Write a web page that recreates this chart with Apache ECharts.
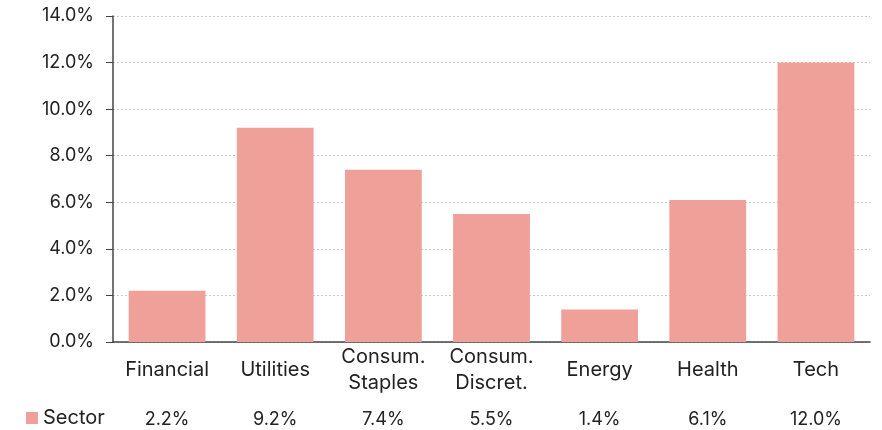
<!DOCTYPE html>
<html>
<head>
<meta charset="utf-8">
<script src="https://cdn.jsdelivr.net/npm/echarts@6/dist/echarts.min.js"></script>
<style>
  html, body { margin: 0; padding: 0; background: #fff; }
  #chart { width: 882px; height: 430px; }
</style>
</head>
<body>
<div id="chart"></div>
<script>
// 数据
const categories = ["Financial", "Utilities", "Consum.\nStaples", "Consum.\nDiscret.", "Energy", "Health", "Tech"];
const sectorValues = [2.2, 9.2, 7.4, 5.5, 1.4, 6.1, 12.0];
const seriesName = "Sector";

const tableLabels = sectorValues.map((v) => v.toFixed(1) + "%");
const font = "Inter, 'Noto Sans', sans-serif";

const myChart = echarts.init(document.querySelector("#chart"));
const option = {
  animation: false,
  textStyle: { fontFamily: font },
  legend: {
    data: [seriesName],
    left: 26,
    top: 408,
    padding: 0,
    icon: "rect",
    itemWidth: 12,
    itemHeight: 12,
    itemGap: 5,
    textStyle: { fontSize: 20, color: "#222", fontFamily: font },
  },
  grid: {
    left: 113,
    right: 12,
    top: 16,
    bottom: 88,
    containLabel: false,
  },
  xAxis: [
    {
      type: "category",
      data: categories,
      axisLine: { lineStyle: { color: "#444", width: 1.5 } },
      axisTick: { show: false },
      axisLabel: {
        fontSize: 20,
        color: "#222",
        margin: 28,
        verticalAlign: "middle",
        lineHeight: 26,
        interval: 0,
      },
    },
    {
      type: "category",
      position: "bottom",
      data: tableLabels,
      axisLine: { show: false },
      axisTick: { show: false },
      axisLabel: {
        fontSize: 18,
        color: "#222",
        margin: 78,
        verticalAlign: "middle",
        interval: 0,
      },
    },
  ],
  yAxis: {
    type: "value",
    min: 0,
    max: 14,
    interval: 2,
    axisLine: { show: true, lineStyle: { color: "#444", width: 1.5 } },
    axisTick: { show: true, length: 7, lineStyle: { color: "#444" } },
    axisLabel: {
      fontSize: 18,
      color: "#222",
      margin: 19,
      formatter: (v) => v.toFixed(1) + "%",
    },
    splitLine: { lineStyle: { color: "#c8c8c8", type: [2, 2] } },
  },
  series: [
    {
      name: seriesName,
      type: "bar",
      xAxisIndex: 0,
      data: sectorValues,
      barWidth: "71%",
      itemStyle: { color: "#EFA098" },
    },
  ],
};
myChart.setOption(option);
</script>
</body>
</html>
